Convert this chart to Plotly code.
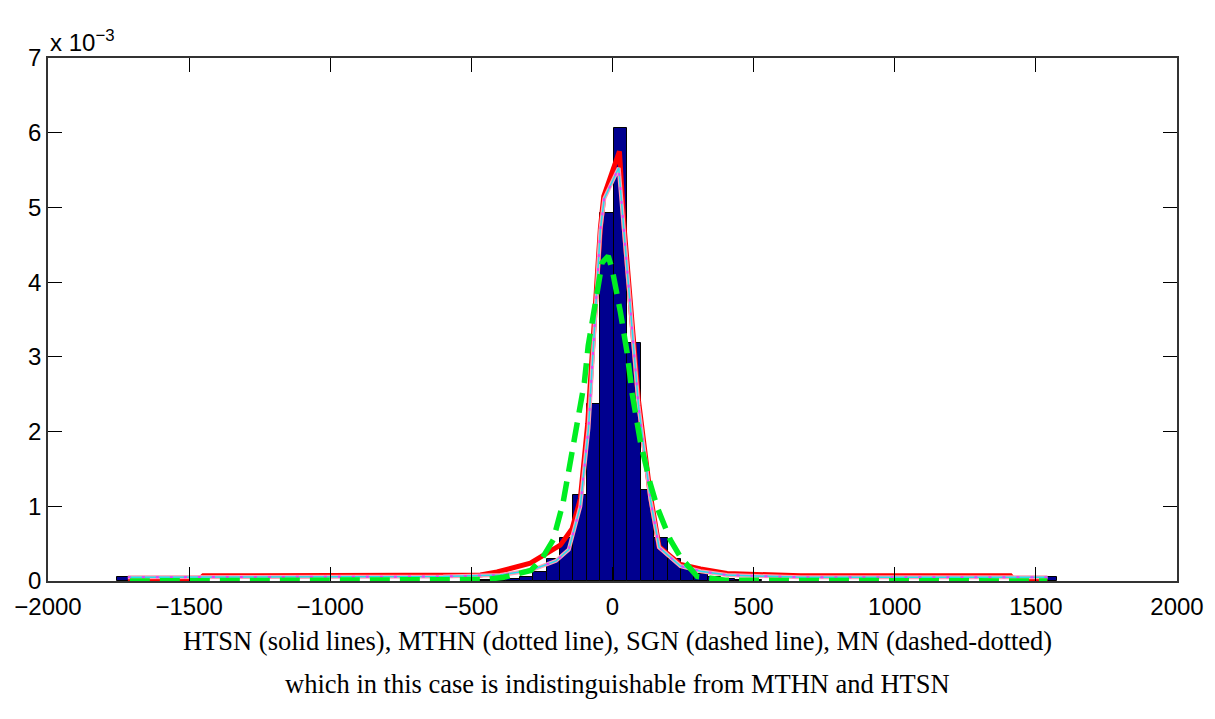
import plotly.graph_objects as go

# ---- histogram (density, units of 1e-3) ----
bin_centers = [-1733.0, -447.7, -400.1, -352.5, -304.9, -257.3, -209.7, -162.1, -114.5, -66.9,
               -19.3, 28.3, 75.9, 123.5, 171.1, 218.7, 266.3, 313.9, 361.5, 409.1,
               456.7, 504.3, 1551.5]
bin_heights = [0.06, 0.01, 0.02, 0.03, 0.06, 0.12, 0.30, 0.58, 1.15, 2.37,
               4.92, 6.06, 3.18, 1.22, 0.58, 0.29, 0.19, 0.10, 0.05, 0.03,
               0.02, 0.01, 0.06]
bin_width = 47.6

# ---- HTSN (red solid) ----
red_x = [-1717, -1470, -1450, -1000, -600, -468, -409, -291, -185, -143, -114, -88, -43, -31,
         24.5, 42, 92, 134, 165, 241, 312, 406, 667, 1000, 1410, 1425, 1541]
red_y = [0.0, 0.0, 0.07, 0.07, 0.07, 0.08, 0.12, 0.24, 0.48, 0.70, 1.10, 2.10, 4.72, 5.15,
         5.75, 4.70, 2.42, 1.15, 0.46, 0.22, 0.16, 0.10, 0.07, 0.07, 0.07, 0.0, 0.0]

# ---- MTHN / MN (cyan + dotted, nearly identical) ----
cyan_x = [-1717, -1000, -600, -398, -291, -200, -155, -114, -85, -43, -29,
          22, 42, 92, 134, 165, 241, 312, 406, 667, 1000, 1541]
cyan_y = [0.05, 0.05, 0.06, 0.08, 0.14, 0.27, 0.42, 1.00, 2.05, 4.70, 5.12,
          5.53, 4.60, 2.35, 1.10, 0.45, 0.20, 0.13, 0.08, 0.05, 0.05, 0.05]

# ---- SGN (green dashed) ----
green_x = [-1710, -450, -385, -290, -250, -210, -175, -155, -125, -100, -86, -61, -37, -15,
           0, 28, 52, 70, 87, 100, 134, 158, 205, 241, 300, 400, 1540]
green_y = [0.0, 0.02, 0.05, 0.14, 0.30, 0.55, 1.05, 1.50, 2.15, 2.65, 3.15, 3.72, 4.26, 4.35,
           4.15, 3.60, 3.05, 2.50, 2.08, 1.84, 1.30, 0.99, 0.55, 0.32, 0.06, 0.01, 0.0]

x_ticks = [-2000, -1500, -1000, -500, 0, 500, 1000, 1500, 2000]
y_ticks = [0, 1, 2, 3, 4, 5, 6, 7]

fig = go.Figure()

fig.add_trace(go.Bar(x=bin_centers, y=bin_heights, width=bin_width,
                     marker=dict(color='#00008f', line=dict(color='black', width=1)),
                     showlegend=False))

fig.add_trace(go.Scatter(x=red_x, y=red_y, mode='lines',
                         line=dict(color='#ff0000', width=5), showlegend=False))
fig.add_trace(go.Scatter(x=cyan_x, y=cyan_y, mode='lines',
                         line=dict(color='#ff9fb4', width=4), showlegend=False))
fig.add_trace(go.Scatter(x=cyan_x, y=cyan_y, mode='lines',
                         line=dict(color='#22e0f0', width=1.5), showlegend=False))
fig.add_trace(go.Scatter(x=cyan_x, y=cyan_y, mode='lines',
                         line=dict(color='#e040ff', width=2, dash='3px,11px'), showlegend=False))
fig.add_trace(go.Scatter(x=green_x, y=green_y, mode='lines',
                         line=dict(color='#00ee22', width=5.5, dash='20px,10px'), showlegend=False))

tick_font = dict(family='Liberation Sans, Arial', size=24, color='black')

fig.update_xaxes(range=[-2000, 2000], tickvals=x_ticks, ticks='inside', ticklen=14,
                 tickcolor='black', showline=True, linecolor='#333333', linewidth=1.5,
                 mirror='ticks', showgrid=False, zeroline=False, tickfont=tick_font,
                 ticklabelstandoff=3, automargin=False)
fig.update_yaxes(range=[0, 7], tickvals=y_ticks, ticks='inside', ticklen=14,
                 tickcolor='black', showline=True, linecolor='#333333', linewidth=1.5,
                 mirror='ticks', showgrid=False, zeroline=False, tickfont=tick_font,
                 automargin=False)

fig.add_annotation(text='x 10<sup>−3</sup>', xref='paper', yref='paper', x=0.0, y=1.0,
                   xanchor='left', yanchor='bottom', showarrow=False, font=tick_font)

cap_font = dict(family='Liberation Serif, Times New Roman, serif', size=26.5, color='black')
fig.add_annotation(text='HTSN (solid lines), MTHN (dotted line), SGN (dashed line), MN (dashed-dotted)',
                   xref='paper', yref='paper', x=0.504, y=-0.115, xanchor='center', yanchor='middle',
                   showarrow=False, font=cap_font)
fig.add_annotation(text='which in this case is indistinguishable from MTHN and HTSN',
                   xref='paper', yref='paper', x=0.504, y=-0.197, xanchor='center', yanchor='middle',
                   showarrow=False, font=cap_font)

# page body has an 8px default margin, so the figure is trimmed by that amount
fig.update_layout(width=1207, height=711, margin=dict(l=40, r=38, t=50, b=138),
                  plot_bgcolor='white', paper_bgcolor='white', bargap=0)

fig.write_html("out.html")
